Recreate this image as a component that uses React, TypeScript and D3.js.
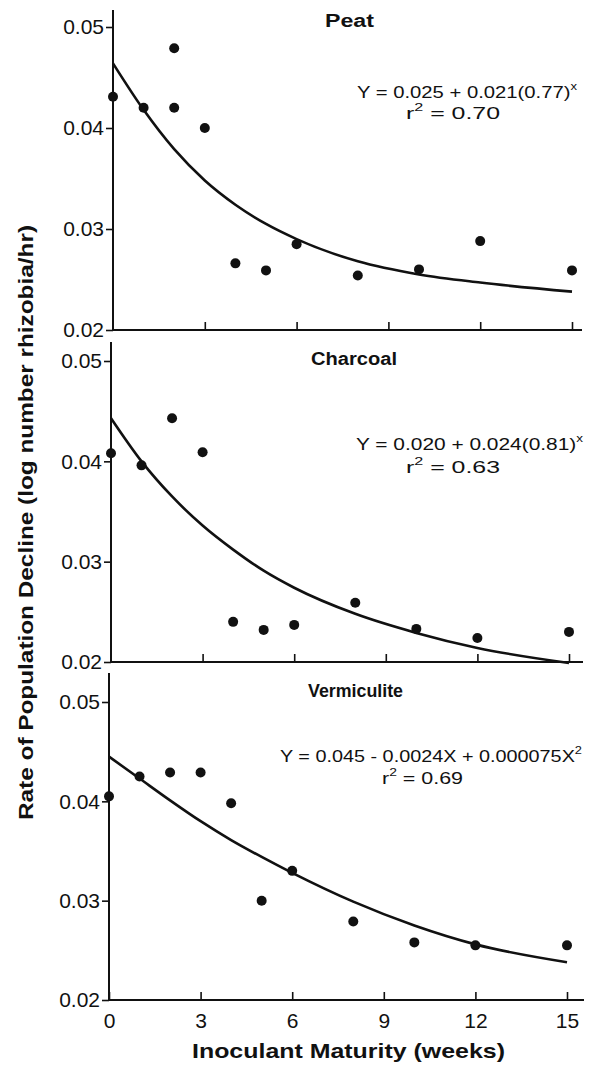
import * as d3 from 'd3'
import { useEffect, useRef } from 'react'

const peatWeeks = [0, 1, 2, 2, 3, 4, 5, 6, 8, 10, 12, 15]
const peatRate = [0.0431, 0.042, 0.0479, 0.042, 0.04, 0.0266, 0.0259, 0.0285, 0.0254, 0.026, 0.0288, 0.0259]
const charcoalWeeks = [0, 1, 2, 3, 4, 5, 6, 8, 10, 12, 15]
const charcoalRate = [0.0408, 0.0396, 0.0443, 0.0409, 0.024, 0.0232, 0.0237, 0.0259, 0.0233, 0.0224, 0.023]
const vermiculiteWeeks = [0, 1, 2, 3, 4, 5, 6, 8, 10, 12, 15]
const vermiculiteRate = [0.0405, 0.0425, 0.0429, 0.0429, 0.0398, 0.03, 0.033, 0.0279, 0.0258, 0.0255, 0.0255]

// fitted curves, as drawn
const fitWeeks = [0, 1, 2, 3, 4, 5, 6, 8, 10, 12, 15]
const peatFit = [0.0464, 0.0418, 0.0379, 0.0348, 0.0324, 0.0305, 0.029, 0.0268, 0.0255, 0.0247, 0.0238]
const charcoalFit = [0.0443, 0.04, 0.0365, 0.0336, 0.0312, 0.0291, 0.0274, 0.0248, 0.0229, 0.0214, 0.0199]
const vermiculiteFit = [0.0445, 0.0423, 0.0401, 0.038, 0.0361, 0.0344, 0.0328, 0.0299, 0.0275, 0.0256, 0.0238]

const yTicks = [0.02, 0.03, 0.04, 0.05]
const xTicks = [0, 3, 6, 9, 12, 15]

const panelNames = ['Peat', 'Charcoal', 'Vermiculite']
const equations = [
  ['Y = 0.025 + 0.021(0.77)', 'x'],
  ['Y = 0.020 + 0.024(0.81)', 'x'],
  ['Y = 0.045 - 0.0024X + 0.000075X', '2'],
]
const rSquared = ['0.70', '0.63', '0.69']

const W = 591
const H = 1067
const FONT = '"Liberation Sans", Arial, Helvetica, sans-serif'

// layout of each panel in pixels
const layout = [
  { top: 10, y02: 330, y05: 27, x0: 113, x15: 572, xEnd: 582,
    title: [325, 27, 49], eq: [357, 98, 220], r2: [406, 119, 94] },
  { top: 342, y02: 662, y05: 361, x0: 111, x15: 569, xEnd: 583,
    title: [311, 365, 86], eq: [356, 450, 227], r2: [406, 473, 94] },
  { top: 673, y02: 1000, y05: 702, x0: 109, x15: 567, xEnd: 584,
    title: [308, 697, 95], eq: [280, 762, 302], r2: [382, 784, 81] },
]

export default function App () {
  const svgRef = useRef(null)

  useEffect(() => {
    const svg = d3.select(svgRef.current)
    svg.selectAll('*').remove()

    const series = [
      { wk: peatWeeks, v: peatRate, fit: peatFit },
      { wk: charcoalWeeks, v: charcoalRate, fit: charcoalFit },
      { wk: vermiculiteWeeks, v: vermiculiteRate, fit: vermiculiteFit },
    ]

    series.forEach((s, i) => {
      const L = layout[i]
      const x = d3.scaleLinear().domain([0, 15]).range([L.x0, L.x15])
      const y = d3.scaleLinear().domain([0.02, 0.05]).range([L.y02, L.y05])
      const g = svg.append('g')
      const isBottom = i === 2

      // y axis
      const yAxis = g.append('g')
        .attr('transform', `translate(${L.x0},0)`)
        .call(d3.axisLeft(y).tickValues(yTicks).tickSize(7).tickPadding(2).tickFormat(d3.format('.2f')))
      yAxis.select('.domain').remove()
      yAxis.selectAll('line').attr('stroke', '#111').attr('stroke-width', 1.6)
      yAxis.selectAll('text').attr('font-family', FONT).attr('font-size', 21).attr('fill', '#111')
      g.append('line')
        .attr('x1', L.x0).attr('x2', L.x0).attr('y1', L.top).attr('y2', L.y02 + 1)
        .attr('stroke', '#111').attr('stroke-width', 2)

      // x axis
      const xAxis = g.append('g')
        .attr('transform', `translate(0,${L.y02})`)
        .call(d3.axisBottom(x).tickValues(isBottom ? xTicks : xTicks.slice(1))
          .tickSizeInner(-8).tickSizeOuter(0).tickPadding(13)
          .tickFormat(isBottom ? d3.format('d') : () => ''))
      xAxis.select('.domain').remove()
      xAxis.selectAll('line').attr('stroke', '#111').attr('stroke-width', 1.6)
      xAxis.selectAll('text').attr('font-family', FONT).attr('font-size', 21).attr('fill', '#111')
      g.append('line')
        .attr('x1', L.x0 - 1).attr('x2', L.xEnd).attr('y1', L.y02).attr('y2', L.y02)
        .attr('stroke', '#111').attr('stroke-width', 2.2)

      // fitted curve
      const line = d3.line<number>()
        .x((_, k) => x(fitWeeks[k]))
        .y((d) => y(d))
        .curve(d3.curveMonotoneX)
      g.append('path')
        .attr('d', line(s.fit))
        .attr('fill', 'none')
        .attr('stroke', '#111')
        .attr('stroke-width', 2.6)

      // observations
      g.selectAll('circle.obs')
        .data(s.v)
        .join('circle')
        .attr('class', 'obs')
        .attr('cx', (_, k) => x(s.wk[k]))
        .attr('cy', (d) => y(d))
        .attr('r', 5)
        .attr('fill', '#111')

      // panel title
      g.append('text')
        .attr('x', L.title[0]).attr('y', L.title[1])
        .attr('textLength', L.title[2]).attr('lengthAdjust', 'spacingAndGlyphs')
        .attr('font-family', FONT).attr('font-weight', 'bold').attr('font-size', 18)
        .attr('fill', '#111')
        .text(panelNames[i])

      // equation
      const eq = g.append('text')
        .attr('x', L.eq[0]).attr('y', L.eq[1])
        .attr('textLength', L.eq[2]).attr('lengthAdjust', 'spacingAndGlyphs')
        .attr('font-family', FONT).attr('font-size', 17).attr('fill', '#111')
      eq.append('tspan').text(equations[i][0])
      eq.append('tspan').attr('dy', -8).attr('font-size', 11).text(equations[i][1])

      const r2 = g.append('text')
        .attr('x', L.r2[0]).attr('y', L.r2[1])
        .attr('textLength', L.r2[2]).attr('lengthAdjust', 'spacingAndGlyphs')
        .attr('font-family', FONT).attr('font-size', 17).attr('fill', '#111')
      r2.append('tspan').text('r')
      r2.append('tspan').attr('dy', -8).attr('font-size', 11).text('2')
      r2.append('tspan').attr('dy', 8).text(' = ' + rSquared[i])
    })

    // axis titles
    svg.append('text')
      .attr('x', 192).attr('y', 1058)
      .attr('textLength', 313).attr('lengthAdjust', 'spacingAndGlyphs')
      .attr('font-family', FONT).attr('font-weight', 'bold').attr('font-size', 21)
      .attr('fill', '#111')
      .text('Inoculant Maturity (weeks)')

    svg.append('text')
      .attr('transform', 'translate(33,820) rotate(-90)')
      .attr('textLength', 595).attr('lengthAdjust', 'spacingAndGlyphs')
      .attr('font-family', FONT).attr('font-weight', 'bold').attr('font-size', 21)
      .attr('fill', '#111')
      .text('Rate of Population Decline (log number rhizobia/hr)')
  }, [])

  return (
    <svg ref={svgRef} width={W} height={H}
      style={{ position: 'absolute', left: 0, top: 0, background: '#fff' }} />
  )
}
